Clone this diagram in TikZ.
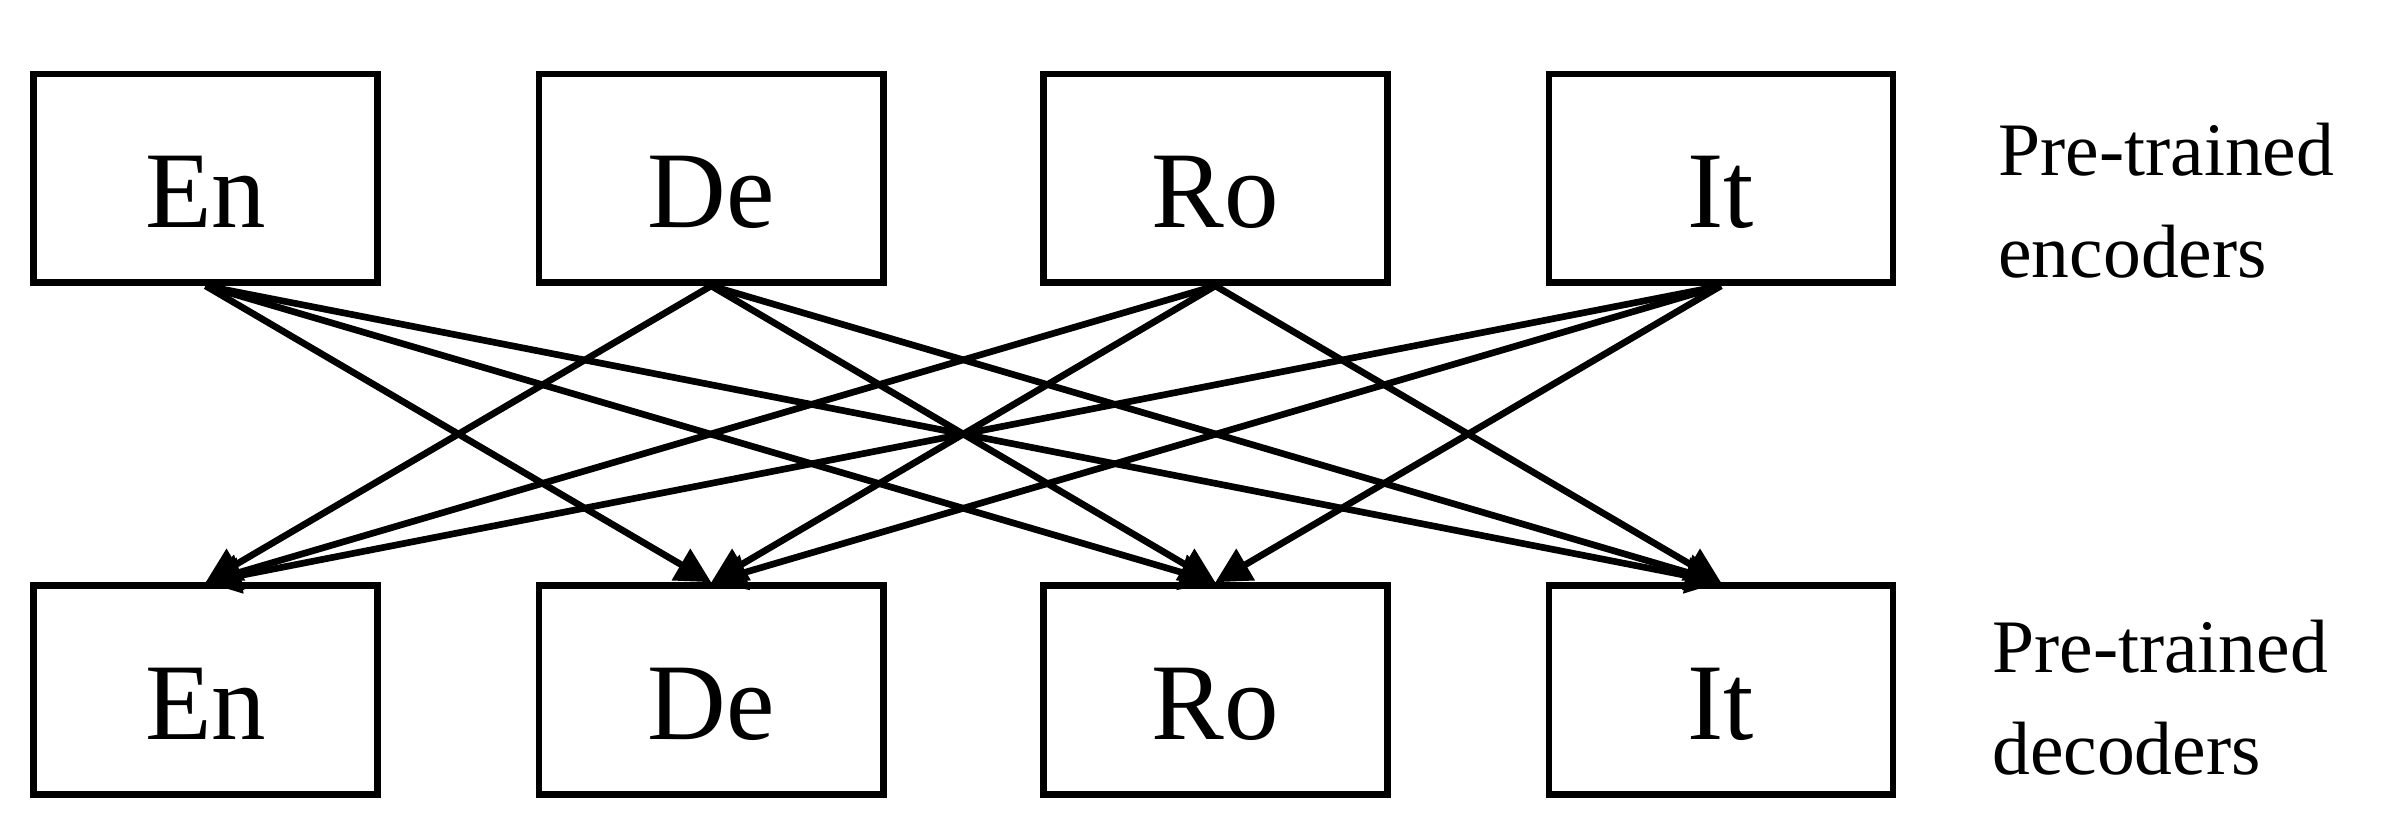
\documentclass[tikz,border=0pt]{standalone}
\usepackage{fontspec}
\setmainfont{Liberation Serif}
\usetikzlibrary{arrows.meta}
\begin{document}
\begin{tikzpicture}[x=0.01523cm,y=-0.01523cm,
  box/.style={draw,line width=1.9pt,minimum width=226*0.01523cm,minimum height=137*0.01523cm,inner sep=0,text depth=0pt,font=\fontsize{31}{34}\selectfont},
  lab/.style={align=left,anchor=west,font=\fontsize{21.5}{29}\selectfont},
  arr/.style={line width=1.9pt,-{Triangle[length=10pt,width=10pt]}}]
\useasboundingbox (0,0) rectangle (1568,541);
\foreach \n/\t/\x in {1/En/135,2/De/467,3/Ro/798,4/It/1130}{
  \node[box] (e\n) at (\x,117) {\raisebox{-8pt}{\t}};
  \node[box] (d\n) at (\x,453) {\raisebox{-8pt}{\t}};
}
\node[lab] (le) at (1304,132) {Pre-trained\\encoders};
\node[lab] (ld) at (1300,458) {Pre-trained\\decoders};
\foreach \i in {1,...,4}{\foreach \j in {1,...,4}{
  \ifnum\i=\j\else\draw[arr] (e\i.south) -- (d\j.north);\fi
}}
\end{tikzpicture}
\end{document}
